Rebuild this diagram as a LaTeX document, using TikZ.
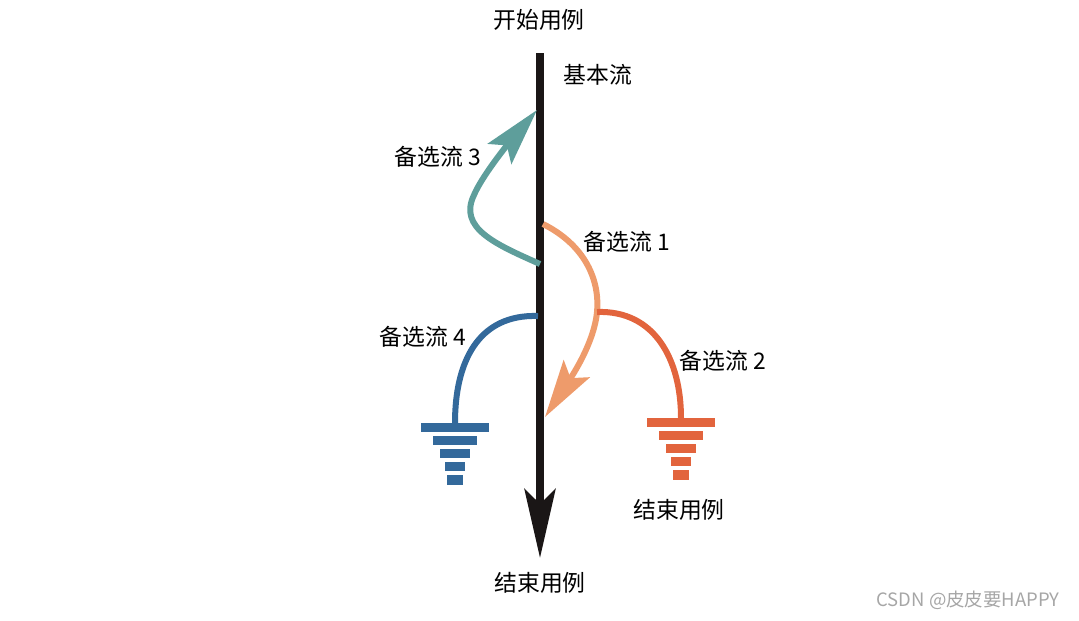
\documentclass[tikz,border=0pt]{standalone}
\usepackage{fontspec}
\setmainfont{Noto Sans CJK SC}
\usetikzlibrary{arrows.meta}
\definecolor{tealc}{HTML}{5E9E9B}
\definecolor{lorange}{HTML}{EE9B6B}
\definecolor{rorange}{HTML}{E2643D}
\definecolor{bluec}{HTML}{33699B}
\definecolor{blk}{HTML}{1A1616}
\begin{document}
\begin{tikzpicture}[x=0.02cm,y=-0.02cm,
  lbl/.style={font=\fontsize{13pt}{15pt}\selectfont, inner sep=0pt},
  mainflow/.style={draw=blk, line width=7.5*0.02cm, -{Stealth[length=1.38cm,width=0.62cm,inset=0.3cm]}},
  altflow/.style={line width=6*0.02cm},
  altarrow/.style={-{Stealth[length=1.15cm,width=0.62cm,inset=0.22cm]}},
  pics/ground/.style={code={
    \fill (-34,0) rectangle (34,9);
    \fill (-22,13) rectangle (22,22);
    \fill (-15,26) rectangle (15,35);
    \fill (-10,39) rectangle (10,48);
    \fill (-8,52) rectangle (8,62);
  }}]
\useasboundingbox (0,0) rectangle (1079,620);
% main flow
\coordinate (top) at (540,53);
\coordinate (tip) at (540,558);
\draw[mainflow] (top) -- (tip);
\node[lbl] (start) at (539,20) {开始用例};
\node[lbl] (basic) at (598,75) {基本流};
\node[lbl] (end) at (540,583) {结束用例};
% alternative 3
\coordinate (a3s) at (540,264);
\coordinate (a3e) at (537,110);
\draw[altflow, altarrow, tealc] (a3s) .. controls (495,244) and (458,228) .. (474,195) .. controls (482,176) and (508,144) .. (a3e);
\node[lbl] (l3) at (438,157) {备选流 3};
% alternative 1
\coordinate (a1s) at (543,224);
\coordinate (a1e) at (545,417);
\draw[altflow, altarrow, lorange] (a1s) .. controls (585,245) and (600,280) .. (597,312) .. controls (594,345) and (568,382) .. (a1e);
\node[lbl] (l1) at (627,242) {备选流 1};
% alternative 2
\coordinate (a2s) at (597,312);
\coordinate (g2) at (681,418);
\draw[altflow, rorange] (a2s) .. controls (655,310) and (681,360) .. (g2);
\pic[color=rorange] at (g2) {ground};
\node[lbl] (l2) at (723,361) {备选流 2};
\node[lbl] (end2) at (679,510) {结束用例};
% alternative 4
\coordinate (a4s) at (538,316);
\coordinate (g4) at (455,423);
\draw[altflow, bluec] (a4s) .. controls (478,314) and (455,362) .. (g4);
\pic[color=bluec] at (g4) {ground};
\node[lbl] (l4) at (423,337) {备选流 4};
% watermark
\node[font=\fontsize{10.5pt}{12pt}\selectfont, text=gray!70, inner sep=0pt] (wm) at (968,600) {CSDN @皮皮要HAPPY};
\end{tikzpicture}
\end{document}
